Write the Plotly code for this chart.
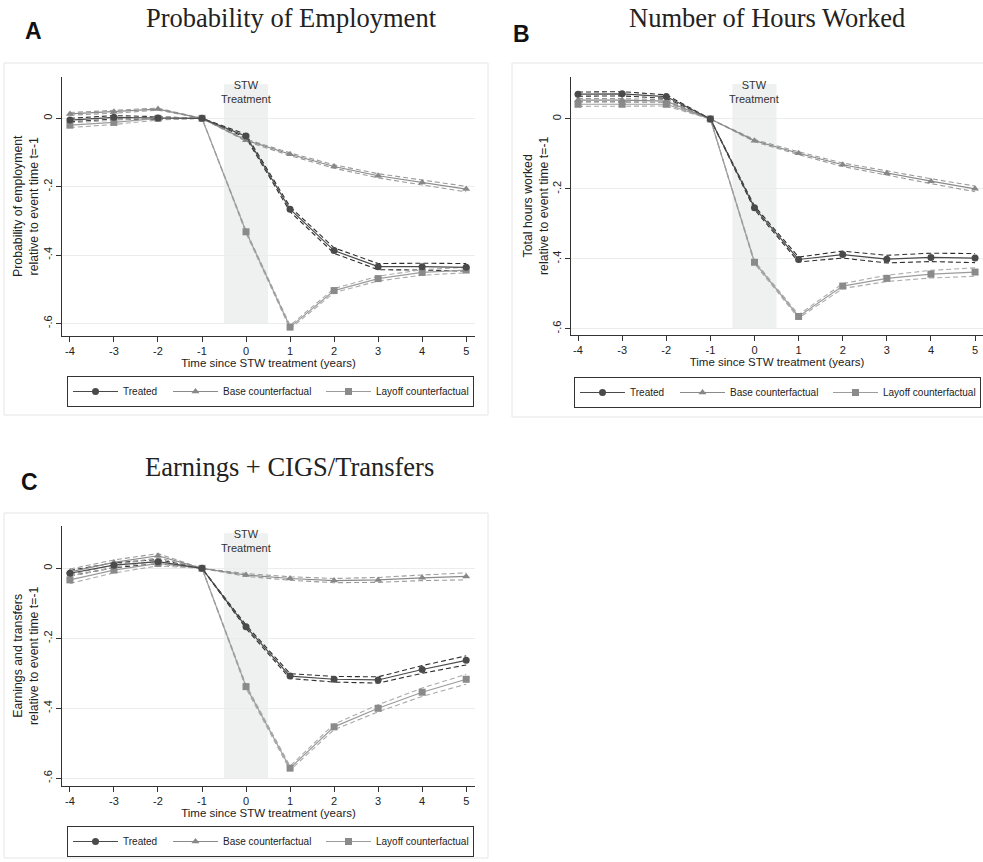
import plotly.graph_objects as go

W, H = 983, 862

years = [-4, -3, -2, -1, 0, 1, 2, 3, 4, 5]

# ---- Panel A: probability of employment (relative to t=-1) ----
emp_treated = [-0.005, 0.003, 0.001, 0.0, -0.052, -0.266, -0.387, -0.434, -0.434, -0.436]
emp_base = [0.013, 0.019, 0.027, 0.0, -0.064, -0.105, -0.141, -0.168, -0.188, -0.207]
emp_layoff = [-0.020, -0.012, 0.000, 0.0, -0.332, -0.611, -0.504, -0.469, -0.451, -0.444]
emp_treated_ci = [0.005, 0.005, 0.004, 0.0, 0.005, 0.007, 0.008, 0.009, 0.010, 0.011]
emp_base_ci = [0.004, 0.004, 0.003, 0.0, 0.003, 0.004, 0.005, 0.006, 0.007, 0.008]
emp_layoff_ci = [0.007, 0.006, 0.005, 0.0, 0.004, 0.005, 0.006, 0.007, 0.008, 0.008]

# ---- Panel B: total hours worked ----
hrs_treated = [0.071, 0.072, 0.064, 0.0, -0.254, -0.402, -0.388, -0.401, -0.396, -0.398]
hrs_base = [0.054, 0.054, 0.051, 0.0, -0.062, -0.098, -0.131, -0.155, -0.178, -0.200]
hrs_layoff = [0.042, 0.042, 0.042, 0.0, -0.410, -0.565, -0.478, -0.456, -0.444, -0.438]
hrs_treated_ci = [0.006, 0.006, 0.005, 0.0, 0.005, 0.007, 0.010, 0.011, 0.012, 0.013]
hrs_base_ci = [0.004, 0.004, 0.004, 0.0, 0.003, 0.004, 0.005, 0.006, 0.007, 0.008]
hrs_layoff_ci = [0.006, 0.006, 0.005, 0.0, 0.004, 0.005, 0.007, 0.009, 0.011, 0.012]

# ---- Panel C: earnings plus CIGS / transfers ----
ern_treated = [-0.014, 0.009, 0.019, 0.0, -0.167, -0.308, -0.317, -0.319, -0.289, -0.263]
ern_base = [-0.010, 0.017, 0.036, 0.0, -0.019, -0.029, -0.035, -0.033, -0.027, -0.023]
ern_layoff = [-0.033, -0.005, 0.014, 0.0, -0.338, -0.571, -0.453, -0.400, -0.354, -0.317]
ern_treated_ci = [0.008, 0.007, 0.006, 0.0, 0.005, 0.007, 0.008, 0.009, 0.011, 0.013]
ern_base_ci = [0.008, 0.007, 0.006, 0.0, 0.004, 0.005, 0.006, 0.007, 0.008, 0.010]
ern_layoff_ci = [0.010, 0.008, 0.007, 0.0, 0.005, 0.006, 0.008, 0.010, 0.012, 0.014]

series_names = ["Treated", "Base counterfactual", "Layoff counterfactual"]
y_tickvals = [0, -0.2, -0.4, -0.6]
y_ticktext = ["0", "-.2", "-.4", "-.6"]

panels = [
    dict(key="", legend="legend",
         series=[(emp_treated, emp_treated_ci), (emp_base, emp_base_ci), (emp_layoff, emp_layoff_ci)],
         ytitle="Probability of employment<br>relative to event time t=-1"),
    dict(key="2", legend="legend2",
         series=[(hrs_treated, hrs_treated_ci), (hrs_base, hrs_base_ci), (hrs_layoff, hrs_layoff_ci)],
         ytitle="Total hours worked<br>relative to event time t=-1"),
    dict(key="3", legend="legend3",
         series=[(ern_treated, ern_treated_ci), (ern_base, ern_base_ci), (ern_layoff, ern_layoff_ci)],
         ytitle="Earnings and transfers<br>relative to event time t=-1"),
]

line_colors = ["#4a4a4a", "#8a8a8a", "#9c9c9c"]
marker_colors = ["#4a4a4a", "#878787", "#8a8a8a"]
ci_colors = ["#2e2e2e", "#9a9a9a", "#ababab"]
symbols = ["circle", "triangle-up", "square"]
legend_widths = [40, 93, 92]

SANS = "Liberation Sans, Arial, sans-serif"

fig = go.Figure()

for p in panels:
    xa = "x" + p["key"]
    ya = "y" + p["key"]
    # confidence bands first (dashed bounds)
    for i, (vals, ci) in enumerate(p["series"]):
        for sign in (1, -1):
            fig.add_trace(go.Scatter(
                x=years, y=[v + sign * c for v, c in zip(vals, ci)],
                mode="lines", xaxis=xa, yaxis=ya, showlegend=False, hoverinfo="skip",
                line=dict(color=ci_colors[i], width=1.1, dash="5px,3px"),
            ))
    # point estimates: layoff, base, treated (treated on top)
    for i in (2, 1, 0):
        vals, _ = p["series"][i]
        fig.add_trace(go.Scatter(
            x=years, y=vals, mode="lines+markers", name=series_names[i],
            xaxis=xa, yaxis=ya, legend=p["legend"], legendrank=i + 1,
            legendwidth=legend_widths[i],
            line=dict(color=line_colors[i], width=1.2),
            marker=dict(symbol=symbols[i], size=7, color=marker_colors[i]),
        ))


def px_x(v):
    return v / W


def px_y(v):
    return 1 - v / H


axis_common = dict(
    showline=True, linecolor="#333333", linewidth=1,
    ticks="outside", ticklen=5, tickcolor="#333333", tickwidth=1,
    zeroline=False,
)

xrange_ac = [-4.18, 5.2]
x_layout = dict(tickvals=years, ticktext=[str(v) for v in years], showgrid=False,
                tickfont=dict(family=SANS, size=11, color="#222"),
                title=dict(text="Time since STW treatment (years)",
                           font=dict(family=SANS, size=11.5, color="#222"), standoff=2),
                **axis_common)
y_layout = dict(tickvals=y_tickvals, ticktext=y_ticktext, tickangle=-90,
                showgrid=True, gridcolor="#ececec", gridwidth=1,
                tickfont=dict(family=SANS, size=11, color="#222"),
                **axis_common)

fig.update_layout(
    width=W, height=H, margin=dict(l=0, r=0, t=0, b=0),
    paper_bgcolor="white", plot_bgcolor="white",
    xaxis=dict(domain=[px_x(62), px_x(475)], range=xrange_ac, anchor="y", **x_layout),
    yaxis=dict(domain=[px_y(336), px_y(77)], range=[-0.637, 0.121], anchor="x", **y_layout),
    xaxis2=dict(domain=[px_x(571), 1.0], range=[-4.159, 5.18], anchor="y2", **x_layout),
    yaxis2=dict(domain=[px_y(335), px_y(77)], range=[-0.618, 0.12], anchor="x2", **y_layout),
    xaxis3=dict(domain=[px_x(62), px_x(475)], range=xrange_ac, anchor="y3", **x_layout),
    yaxis3=dict(domain=[px_y(786), px_y(526)], range=[-0.622, 0.121], anchor="x3", **y_layout),
)

# y-axis titles (two rotated lines beside the tick labels)
for p, cx, cy in ((panels[0], 26, 206), (panels[1], 536, 206), (panels[2], 26, 656)):
    fig.add_annotation(xref="paper", yref="paper", x=px_x(cx), y=px_y(cy),
                       text=p["ytitle"], textangle=-90, showarrow=False,
                       xanchor="center", yanchor="middle",
                       font=dict(family=SANS, size=12.3, color="#222"))

legend_style = dict(orientation="h", xanchor="left", yanchor="top",
                    bordercolor="#333333", borderwidth=1, bgcolor="white",
                    font=dict(family=SANS, size=10, color="#222"),
                    itemwidth=45, traceorder="normal", itemclick=False)
fig.update_layout(
    legend=dict(x=px_x(67), y=px_y(376), **legend_style),
    legend2=dict(x=px_x(574), y=px_y(377), **legend_style),
    legend3=dict(x=px_x(67), y=px_y(826), **legend_style),
)

# STW treatment window shading and label
for key in ("", "2", "3"):
    fig.add_shape(type="rect", xref="x" + key, yref="y" + key,
                  x0=-0.5, x1=0.5, y0=-0.6, y1=0.1,
                  fillcolor="#eef1f0", line=dict(width=0), layer="below")
    fig.add_annotation(xref="x" + key, yref="y" + key, x=0, y=0.078,
                       text="STW<br>Treatment", showarrow=False,
                       font=dict(family=SANS, size=11, color="#333"))

# faint frames around each panel
for x0, y0, x1, y1 in ((4, 63, 488, 415), (512, 63, 990, 417), (4, 513, 488, 858)):
    fig.add_shape(type="rect", xref="paper", yref="paper",
                  x0=px_x(x0), x1=px_x(x1), y0=px_y(y1), y1=px_y(y0),
                  line=dict(color="#e6e6e6", width=1), layer="below")

# panel titles and letters
titles = [("Probability of Employment", 291, 18), ("Number of Hours Worked", 767, 18),
          ("Earnings + CIGS/Transfers", 289, 467)]
for text, cx, cy in titles:
    fig.add_annotation(xref="paper", yref="paper", x=px_x(cx), y=px_y(cy),
                       text=text, showarrow=False, xanchor="center", yanchor="middle",
                       font=dict(family="Liberation Serif, serif", size=26.5, color="#222"))
letters = [("A", 33, 31), ("B", 521, 34), ("C", 29, 482)]
for text, cx, cy in letters:
    fig.add_annotation(xref="paper", yref="paper", x=px_x(cx), y=px_y(cy),
                       text="<b>%s</b>" % text, showarrow=False, xanchor="center", yanchor="middle",
                       font=dict(family=SANS, size=23, color="#111"))

fig.write_html("out.html")
